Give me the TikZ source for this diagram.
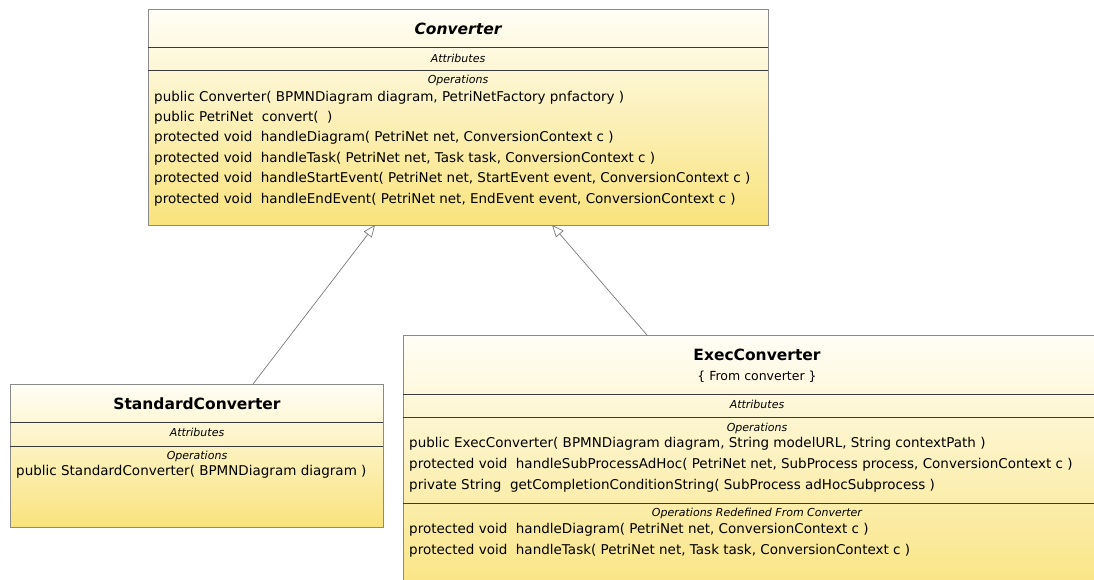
\documentclass[tikz,border=0pt]{standalone}
\usepackage{fontspec}
\setmainfont{DejaVu Sans}
\usetikzlibrary{arrows.meta}
\definecolor{boxedge}{HTML}{8A8A8A}
\definecolor{sepline}{HTML}{3A3A3A}
\definecolor{boxtop}{HTML}{FFFEF7}
\definecolor{boxbot}{HTML}{F9E37C}
\definecolor{wireclr}{HTML}{7A7A7A}
\tikzset{
  classbox/.style={draw=boxedge, line width=0.8pt, top color=boxtop, bottom color=boxbot,
    rectangle, inner sep=0pt, outer sep=0pt, anchor=north west},
  sep/.style={draw=sepline, line width=0.8pt},
  title/.style={font=\fontsize{15.5}{18}\selectfont\bfseries, inner sep=0pt, anchor=center},
  subtitle/.style={font=\fontsize{12.5}{14}\selectfont, inner sep=0pt, anchor=center},
  section/.style={font=\fontsize{11}{13}\selectfont\itshape, inner sep=0pt, anchor=center},
  member/.style={font=\fontsize{13.5}{15}\selectfont, inner sep=0pt, anchor=west},
  generalization/.style={draw=wireclr, line width=0.7pt,
    -{Triangle[open, length=12pt, width=10pt, fill=white]}}
}
\begin{document}
\begin{tikzpicture}[x=1pt, y=-1pt]
\useasboundingbox (0,0) rectangle (1094,579);
\fill[white] (0,0) rectangle (1094,579);

% --- Converter (abstract) ---
\node[classbox, minimum width=620pt, minimum height=216pt] (conv) at (148,9) {};
\draw[sep] (148,47) -- (768,47);
\draw[sep] (148,70) -- (768,70);
\node[title, font=\fontsize{15.5}{18}\selectfont\bfseries\itshape] (convname) at (458,29) {Converter};
\node[section] (convattr) at (458,58.5) {Attributes};
\node[section] (convops) at (458,80.5) {Operations};
\node[member] (c1) at (154,97.5) {public Converter( BPMNDiagram diagram, PetriNetFactory pnfactory )};
\node[member] (c2) at (154,117.5) {public PetriNet\ \ convert(\ \ )};
\node[member] (c3) at (154,137.5) {protected void\ \ handleDiagram( PetriNet net, ConversionContext c )};
\node[member] (c4) at (154,158.5) {protected void\ \ handleTask( PetriNet net, Task task, ConversionContext c )};
\node[member] (c5) at (154,178.5) {protected void\ \ handleStartEvent( PetriNet net, StartEvent event, ConversionContext c )};
\node[member] (c6) at (154,199.5) {protected void\ \ handleEndEvent( PetriNet net, EndEvent event, ConversionContext c )};

% --- StandardConverter ---
\node[classbox, minimum width=373pt, minimum height=143pt] (std) at (10,384) {};
\draw[sep] (10,422) -- (383,422);
\draw[sep] (10,446) -- (383,446);
\node[title] (stdname) at (197,404) {StandardConverter};
\node[section] (stdattr) at (197,432.5) {Attributes};
\node[section] (stdops) at (197,456.5) {Operations};
\node[member] (s1) at (16,472) {public StandardConverter( BPMNDiagram diagram )};

% --- ExecConverter (runs past the right and bottom edges) ---
\begin{scope}
\clip (0,0) rectangle (1094,579);
\node[classbox, minimum width=700pt, minimum height=270pt] (exec) at (403,335) {};
\draw[sep] (403,394) -- (1104,394);
\draw[sep] (403,417) -- (1104,417);
\draw[sep] (403,503) -- (1104,503);
\end{scope}
\node[title] (execname) at (757,355) {ExecConverter};
\node[subtitle] (execprop) at (757,376.5) {\{ From converter \}};
\node[section] (execattr) at (757,404.5) {Attributes};
\node[section] (execops) at (757,428) {Operations};
\node[member] (e1) at (409,443.5) {public ExecConverter( BPMNDiagram diagram, String modelURL, String contextPath )};
\node[member] (e2) at (409,465) {protected void\ \ handleSubProcessAdHoc( PetriNet net, SubProcess process, ConversionContext c )};
\node[member] (e3) at (409,486) {private String\ \ getCompletionConditionString( SubProcess adHocSubprocess )};
\node[section] (execredef) at (757,513.5) {Operations Redefined From Converter};
\node[member] (e4) at (409,530) {protected void\ \ handleDiagram( PetriNet net, ConversionContext c )};
\node[member] (e5) at (409,551) {protected void\ \ handleTask( PetriNet net, Task task, ConversionContext c )};

% --- generalizations ---
\coordinate (stdtop) at (253,384);
\coordinate (convL) at (375,225);
\coordinate (exectop) at (647,335);
\coordinate (convR) at (552,225);
\draw[generalization] (stdtop) -- (convL);
\draw[generalization] (exectop) -- (convR);
\end{tikzpicture}
\end{document}
